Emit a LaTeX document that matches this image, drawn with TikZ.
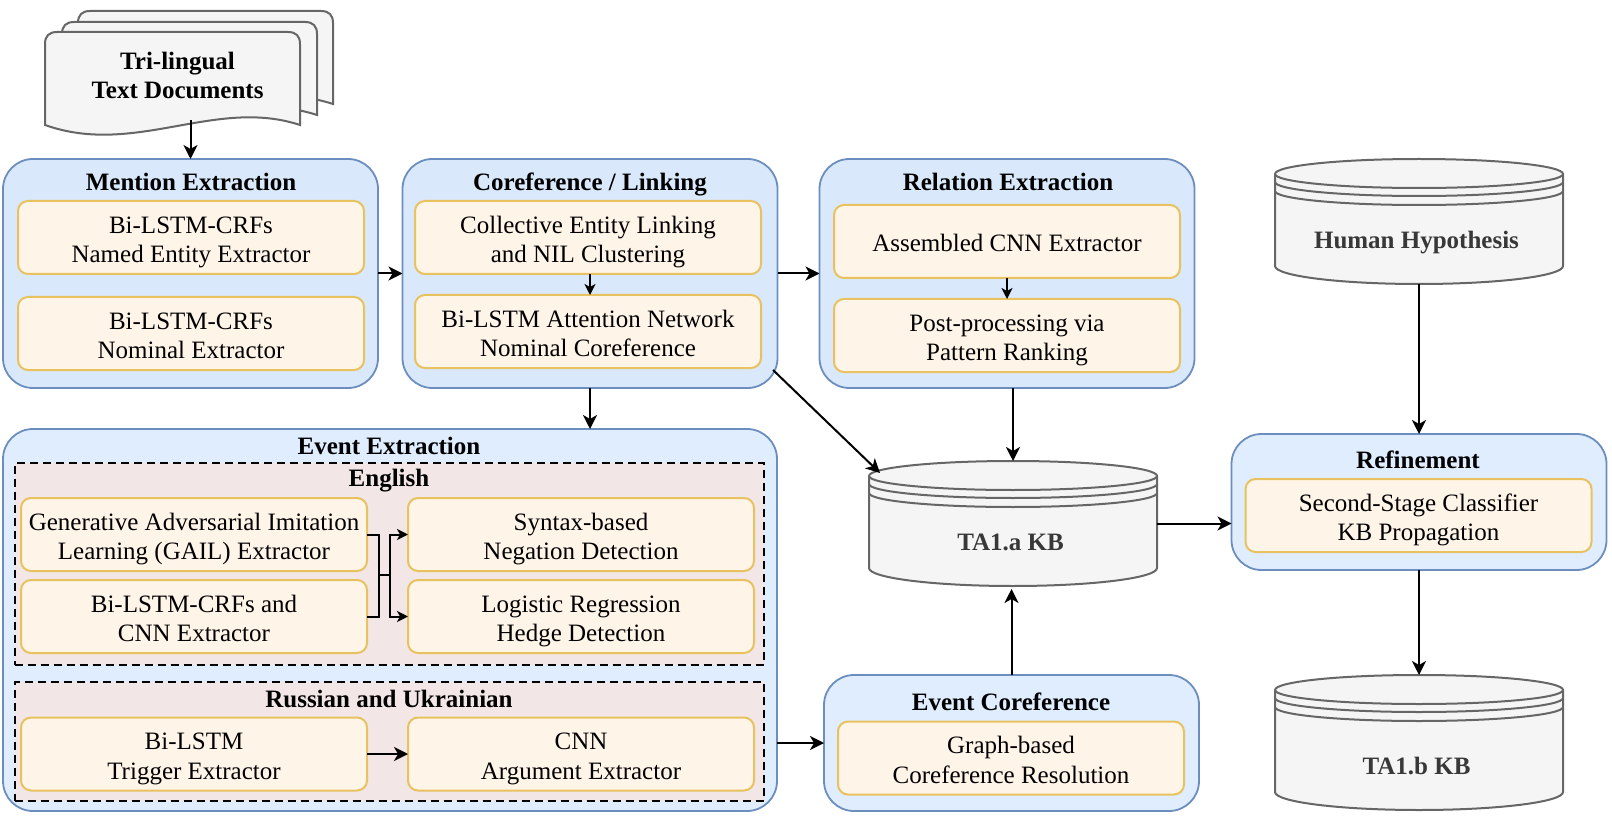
\documentclass[tikz,border=0pt]{standalone}
\usepackage{fontspec}
\setmainfont{Liberation Serif}
\usetikzlibrary{positioning,arrows.meta}

\definecolor{groupblue}{HTML}{DAE8FC}
\definecolor{grouplight}{HTML}{DFEDFF}
\definecolor{groupline}{HTML}{6C8EBF}
\definecolor{itemfill}{HTML}{FFF4E8}
\definecolor{itemline}{HTML}{E8C25F}
\definecolor{langfill}{HTML}{F3E6E6}
\definecolor{storefill}{HTML}{F5F5F5}
\definecolor{storeline}{HTML}{666666}

\tikzset{
	group/.style = {draw=groupline, fill=groupblue, line width=1.8pt, rounded corners=30pt,
		minimum width=375pt, minimum height=229pt, inner sep=0pt, outer sep=0pt},
	grouptitle/.style = {font=\fontsize{25}{29}\selectfont\bfseries, text height=17pt, text depth=6pt, inner sep=0pt},
	item/.style = {draw=itemline, fill=itemfill, line width=2pt, rounded corners=10pt,
		minimum width=346pt, minimum height=73pt, inner sep=0pt, outer sep=0pt, align=center,
		font=\fontsize{25}{29.5}\selectfont},
	lang/.style = {draw=black, fill=langfill, line width=2pt, dash pattern=on 8pt off 5pt, minimum width=749pt,
		inner sep=0pt, outer sep=0pt},
	docline/.style = {draw=storeline, fill=storefill, line width=2pt},
	doctext/.style = {font=\fontsize{25}{29}\selectfont\bfseries, align=center, inner sep=0pt, outer sep=0pt},
	storetext/.style = {font=\fontsize{25}{29}\selectfont\bfseries, text=black!78, text height=17pt, text depth=6pt, inner sep=0pt},
	conn/.style = {draw=black, line width=2pt, -{Stealth[length=14pt,width=14pt,inset=4pt]}},
	thinconn/.style = {draw=black, line width=2pt, -{Stealth[length=11pt,width=11pt,inset=3pt]}},
	plainconn/.style = {draw=black, line width=2pt}
}

\newcommand{\twoline}[2]{\rule{0pt}{27pt}#1\\#2\rule[-6pt]{0pt}{6pt}}
\newcommand{\docpage}[2]{
	\draw[docline, shift={(#1,#2)}] (0,93) -- (0,12) .. controls (0,4) and (4,0) .. (12,0) -- (243,0)
		.. controls (251,0) and (255,4) .. (255,12) -- (255,93)
		.. controls (170,65) and (90,125) .. (0,93) -- cycle;
}
% name, left, top, height, label
\newcommand{\kbstore}[5]{
	\begin{scope}[shift={(#2,#3)}]
	\draw[docline] (0,15) arc[start angle=180, end angle=0, x radius=144pt, y radius=15pt]
		-- (288,#4-18) arc[start angle=0, end angle=-180, x radius=144pt, y radius=18pt] -- cycle;
	\draw[docline, fill=none] (0,15) arc[start angle=180, end angle=360, x radius=144pt, y radius=14pt];
	\draw[docline, fill=none] (0,23) arc[start angle=180, end angle=360, x radius=144pt, y radius=14pt];
	\draw[docline, fill=none] (0,32) arc[start angle=180, end angle=360, x radius=144pt, y radius=14pt];
	\node[minimum width=288pt, minimum height=#4 pt, inner sep=0pt, outer sep=0pt] (#1) at (144,#4/2) {};
	\node[storetext] (#1text) at (141.5,#4-41) {#5};
	\end{scope}
}

\begin{document}
\begin{tikzpicture}[x=1pt, y=-1pt]
\useasboundingbox (0,0) rectangle (1612,818);

% input documents
\docpage{78}{11}
\docpage{62}{22}
\docpage{45}{32}
\node[doctext, minimum width=255pt, minimum height=90pt] (docs) at (177.5,75) {Tri-lingual\\Text Documents};

% top row
\node[group] (mention) at (190.5,273.5) {};
\node[grouptitle] (mentiontitle) at (191,185) {Mention Extraction};
\node[item] (ner) at (191,237.5) {\twoline{Bi-LSTM-CRFs}{Named Entity Extractor}};
\node[item, below=23pt of ner] (nominal) {\twoline{Bi-LSTM-CRFs}{Nominal Extractor}};

\node[group] (coref) at (590,273.5) {};
\node[grouptitle] (coreftitle) at (590,185) {Coreference / Linking};
\node[item] (linking) at (588,237.5) {\twoline{Collective Entity Linking}{and NIL Clustering}};
\node[item, below=21pt of linking] (attention) {\twoline{Bi-LSTM Attention Network}{Nominal Coreference}};

\node[group] (relation) at (1007,273.5) {};
\node[grouptitle] (relationtitle) at (1008,185) {Relation Extraction};
\node[item] (assembled) at (1007,241.5) {\rule{0pt}{21pt}Assembled CNN Extractor};
\node[item, below=21pt of assembled] (postproc) {\twoline{Post-processing via}{Pattern Ranking}};

% event extraction
\node[group, fill=grouplight, minimum width=774pt, minimum height=382pt] (event) at (390,620) {};
\node[grouptitle] (eventtitle) at (389,449) {Event Extraction};
\node[lang, minimum height=202pt] (english) at (389,564) {};
\node[grouptitle] (englishtitle) at (389,481) {English};
\node[lang, minimum height=119pt] (russian) at (389,741.5) {};
\node[grouptitle] (russiantitle) at (389,702) {Russian and Ukrainian};

\node[item] (gail) at (194,534.5) {\twoline{Generative Adversarial Imitation}{Learning (GAIL) Extractor}};
\node[item] (crfcnn) at (194,616.5) {\twoline{Bi-LSTM-CRFs and}{CNN Extractor}};
\node[item] (negation) at (581,534.5) {\twoline{Syntax-based}{Negation Detection}};
\node[item] (hedge) at (581,616.5) {\twoline{Logistic Regression}{Hedge Detection}};
\node[item] (trigger) at (194,754) {\twoline{Bi-LSTM}{Trigger Extractor}};
\node[item] (argument) at (581,754) {\twoline{CNN}{Argument Extractor}};

% event coreference and refinement
\node[group, fill=grouplight, minimum height=136pt] (evcoref) at (1011.5,743) {};
\node[grouptitle] (evcoreftitle) at (1011,705) {Event Coreference};
\node[item] (graphres) at (1011,758) {\twoline{Graph-based}{Coreference Resolution}};

\node[group, fill=grouplight, minimum height=136pt] (refine) at (1419,502) {};
\node[grouptitle] (refinetitle) at (1418,463) {Refinement};
\node[item] (classifier) at (1418.5,515.5) {\twoline{Second-Stage Classifier}{KB Propagation}};

% knowledge bases
\kbstore{ta1a}{869}{461}{125}{TA1.a KB}
\kbstore{hypothesis}{1275}{159}{125}{Human Hypothesis}
\kbstore{ta1b}{1275}{675}{135}{TA1.b KB}

\coordinate (fork) at (379,575);
\coordinate (forkout) at (390,575);
\coordinate (corefexit) at (773,370);
\coordinate (ta1aentry) at (880,473);

\draw[conn] (mention.north |- docs.south) -- (mention.north);
\draw[conn] (mention.east) -- (coref.west);
\draw[conn] (coref.east) -- (relation.west);
\draw[thinconn] (coref.south |- linking.south) -- (coref.south |- attention.north);
\draw[thinconn] (assembled.south) -- (postproc.north);
\draw[conn] (coref.south) -- (coref.south |- event.north);
\draw[conn] (corefexit) -- (ta1aentry);
\draw[conn] (ta1a.north |- relation.south) -- (ta1a.north);
\draw[conn] (evcoref.north) -- ++(0,-86);
\draw[conn] (ta1a.east) -- (ta1a.east -| refine.west);
\draw[conn] (hypothesis.south) -- (hypothesis.south |- refine.north);
\draw[conn] (refine.south) -- (refine.south |- ta1b.north);
\draw[conn] (evcoref.west -| event.east) -- (evcoref.west);
\draw[conn] (trigger.east) -- (argument.west);
\draw[plainconn] (gail.east) -| (fork) |- (crfcnn.east);
\draw[plainconn] (fork) -- (forkout);
\draw[thinconn] (forkout) |- (negation.west);
\draw[thinconn] (forkout) |- (hedge.west);
\end{tikzpicture}
\end{document}
